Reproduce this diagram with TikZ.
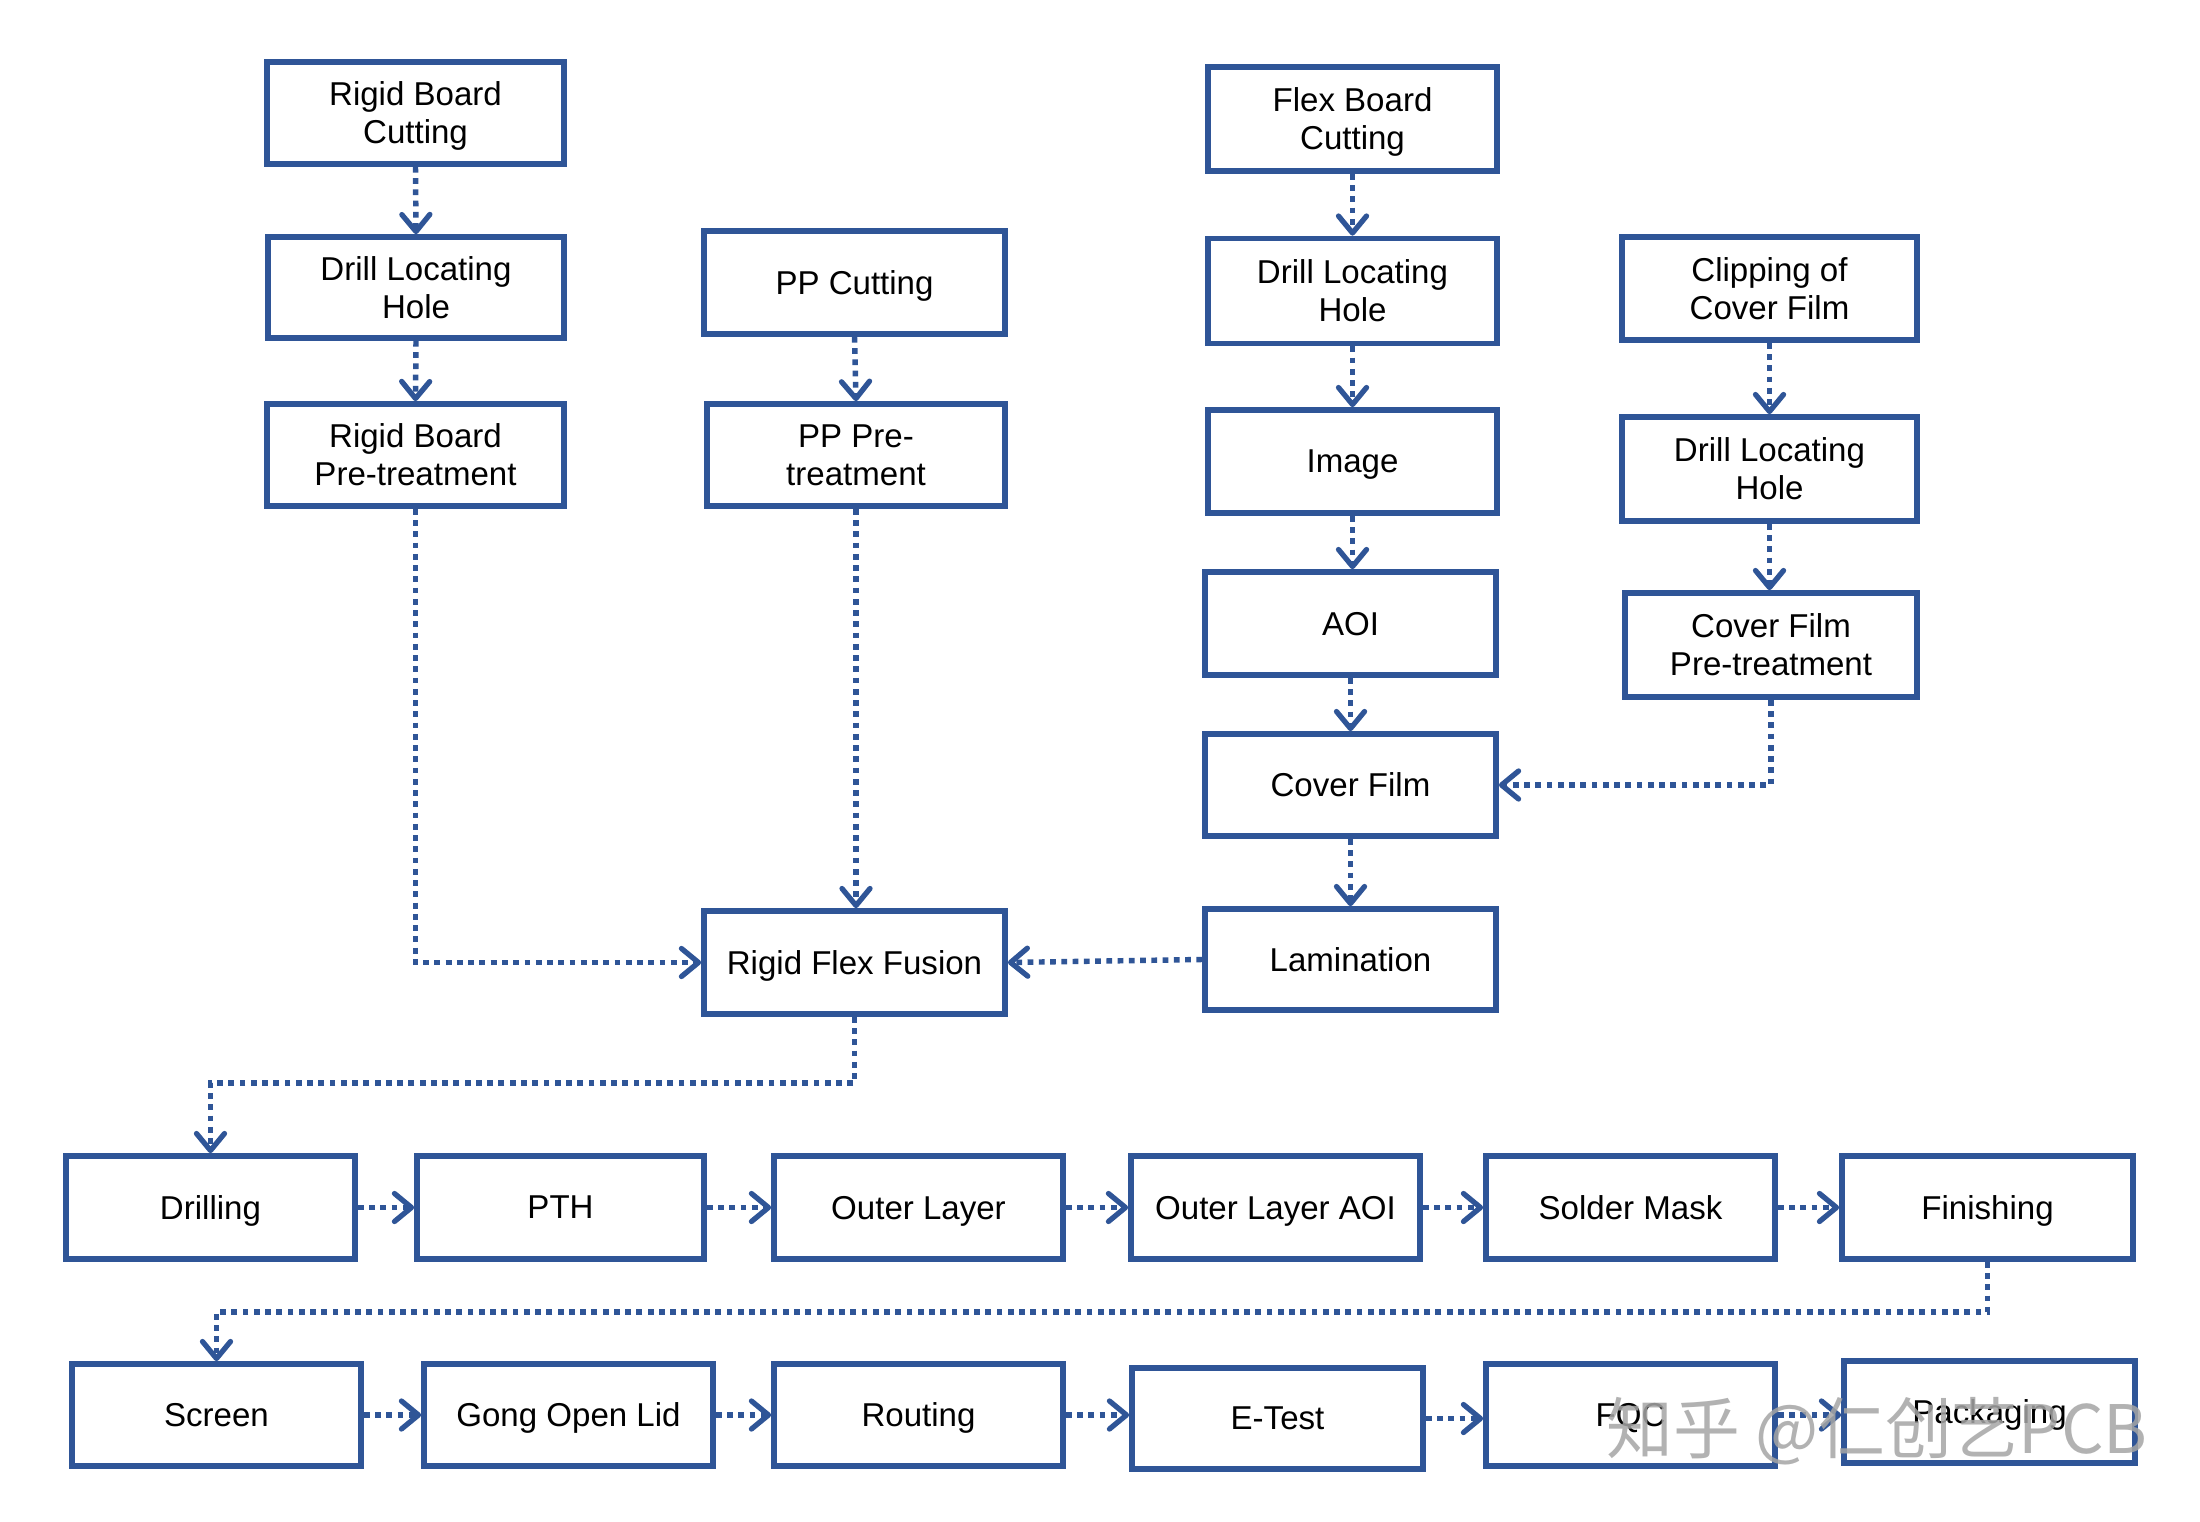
\documentclass[tikz,border=0pt]{standalone}
\usepackage{fontspec}
\setmainfont{Liberation Sans}
\newfontfamily\cjk{Noto Sans CJK SC}
\usetikzlibrary{arrows.meta}
\definecolor{boxblue}{RGB}{47,85,151}
\definecolor{wmgray}{RGB}{165,165,165}
\tikzset{
  box/.style={draw=boxblue, line width=1.6pt, fill=white, align=center, inner sep=0pt,
    minimum width=2.9cm, minimum height=1.03cm, text=black, text depth=0pt,
    font=\fontsize{9.4pt}{10.8pt}\selectfont},
  conn/.style={draw=boxblue, line width=1.55pt, dash pattern=on 1.65pt off 1.55pt,
    -{Straight Barb[length=1.7mm, width=2.8mm, line width=1.5pt, round]}},
}
\begin{document}
\begin{tikzpicture}[x=0.01cm,y=-0.01cm]
\useasboundingbox (0,0) rectangle (2200,1522);
% left column
\node[box, minimum width=2.97cm, minimum height=1.02cm] (rbc) at (415.5,113) {Rigid Board\\Cutting};
\node[box, minimum width=2.96cm, minimum height=1.01cm] (dlh1) at (416,287.5) {Drill Locating\\Hole};
\node[box, minimum width=2.97cm, minimum height=1.02cm] (rbp) at (415.5,455) {Rigid Board\\Pre-treatment};
% PP column
\node[box, minimum width=3.01cm] (ppc) at (854.5,282.5) {PP Cutting};
\node[box, minimum width=2.98cm, minimum height=1.02cm] (ppp) at (856,455) {PP Pre-\\treatment};
\node[box, minimum width=3.01cm] (rff) at (854.5,962.5) {Rigid Flex Fusion};
% flex column
\node[box, minimum width=2.89cm, minimum height=1.04cm] (fbc) at (1352.5,119) {Flex Board\\Cutting};
\node[box, minimum width=2.89cm, minimum height=1.05cm] (dlh2) at (1352.5,291) {Drill Locating\\Hole};
\node[box, minimum width=2.89cm] (img) at (1352.5,461.5) {Image};
\node[box, minimum width=2.91cm] (aoi) at (1350.5,623.5) {AOI};
\node[box, minimum width=2.91cm, minimum height=1.02cm] (cf) at (1350.5,785) {Cover Film};
\node[box, minimum width=2.91cm, minimum height=1.01cm] (lam) at (1350.5,959.5) {Lamination};
% cover film column
\node[box, minimum width=2.95cm] (clip) at (1769.5,288.5) {Clipping of\\Cover Film};
\node[box, minimum width=2.95cm, minimum height=1.04cm] (dlh3) at (1769.5,469) {Drill Locating\\Hole};
\node[box, minimum width=2.92cm, minimum height=1.04cm] (cfp) at (1771,645) {Cover Film\\Pre-treatment};
% row 1
\node[box, minimum width=2.89cm] (drl) at (210.5,1207.5) {Drilling};
\node[box, minimum width=2.87cm] (pth) at (560.5,1207.5) {PTH};
\node[box, minimum width=2.89cm] (ol) at (918.5,1207.5) {Outer Layer};
\node[box, minimum width=2.89cm] (olaoi) at (1275.5,1207.5) {Outer Layer AOI};
\node[box, minimum width=2.89cm] (sm) at (1630.5,1207.5) {Solder Mask};
\node[box, minimum width=2.91cm] (fin) at (1987.5,1207.5) {Finishing};
% row 2
\node[box, minimum width=2.89cm, minimum height=1.02cm] (scr) at (216.5,1415) {Screen};
\node[box, minimum width=2.89cm, minimum height=1.02cm] (gong) at (568.5,1415) {Gong Open Lid};
\node[box, minimum width=2.89cm, minimum height=1.02cm] (rout) at (918.5,1415) {Routing};
\node[box, minimum width=2.91cm, minimum height=1.01cm] (et) at (1277.5,1418.5) {E-Test};
\node[box, minimum width=2.89cm, minimum height=1.02cm] (fqc) at (1630.5,1415) {FQC};
\node[box, minimum width=2.91cm, minimum height=1.02cm] (pkg) at (1989.5,1412) {Packaging};
% bend points
\coordinate (b1) at (210.5,1083);
\coordinate (b2) at (216.5,1312);
% vertical connectors
\draw[conn] (rbc.south) -- (dlh1.north);
\draw[conn] (dlh1.south) -- (rbp.north);
\draw[conn] (ppc.south) -- (ppp.north);
\draw[conn] (ppp.south) -- (ppp.south |- rff.north);
\draw[conn] (fbc.south) -- (dlh2.north);
\draw[conn] (dlh2.south) -- (img.north);
\draw[conn] (img.south) -- (img.south |- aoi.north);
\draw[conn] (aoi.south) -- (cf.north);
\draw[conn] (cf.south) -- (lam.north);
\draw[conn] (clip.south) -- (clip.south |- dlh3.north);
\draw[conn] (dlh3.south) -- (dlh3.south |- cfp.north);
% elbows
\draw[conn] (rbp.south) |- (rff.west);
\draw[conn] (cfp.south) |- (cf.east);
\draw[conn] (lam.west) -- (rff.east);
\draw[conn] (rff.south) |- (b1) -- (drl.north);
\draw[conn] (fin.south) |- (b2) -- (scr.north);
% row connectors
\draw[conn] (drl.east) -- (pth.west);
\draw[conn] (pth.east) -- (ol.west);
\draw[conn] (ol.east) -- (olaoi.west);
\draw[conn] (olaoi.east) -- (sm.west);
\draw[conn] (sm.east) -- (fin.west);
\draw[conn] (scr.east) -- (gong.west);
\draw[conn] (gong.east) -- (rout.west);
\draw[conn] (rout.east) -- (rout.east -| et.west);
\draw[conn] (et.east) -- (et.east -| fqc.west);
\draw[conn] (fqc.east) -- (fqc.east -| pkg.west);
% watermark
\node[text=wmgray, opacity=0.85, font=\cjk\fontsize{19pt}{22pt}\selectfont, inner sep=0pt] (wm) at (1877,1431) {知乎 @仁创艺PCB};
\end{tikzpicture}
\end{document}
